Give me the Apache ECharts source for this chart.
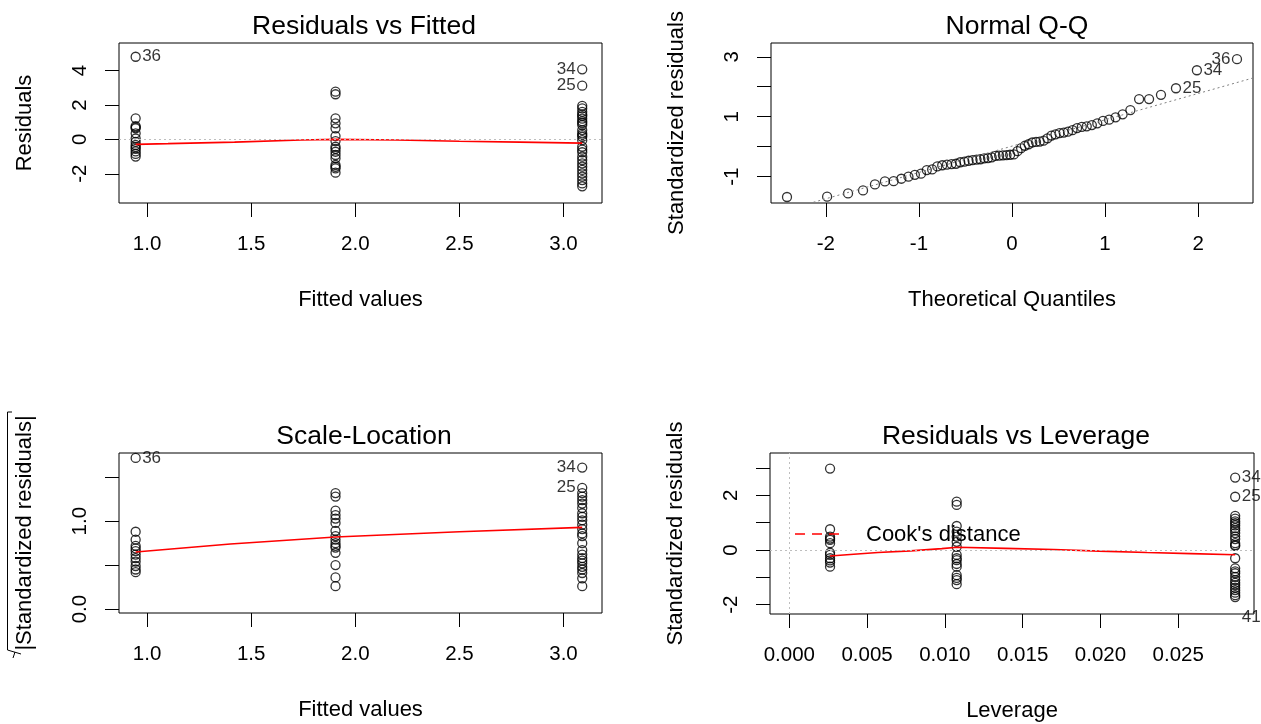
<!DOCTYPE html>
<html><head><meta charset="utf-8">
<script src="https://cdn.jsdelivr.net/npm/echarts@6/dist/echarts.min.js"></script>
<style>html,body{margin:0;padding:0;background:#fff}#c{width:1261px;height:724px}</style>
</head><body><div id="c"></div>
<script>
// ---------- data ----------
// Panel 1: Residuals vs Fitted
const fittedGroups = [0.945, 1.905, 3.09];
const residLow  = [4.80, 1.22, 0.77, 0.70, 0.64, 0.35, 0.05, -0.15, -0.33, -0.45, -0.55, -0.70, -0.85, -1.00];
const residMid  = [2.77, 2.62, 1.22, 0.93, 0.64, 0.19, -0.10, -0.43, -0.55, -0.72, -0.91, -1.10, -1.49, -1.60, -1.69, -1.94];
const residHigh = [4.07, 3.12, 1.95, 1.80, 1.60, 1.45, 1.35, 1.20, 1.05, 0.95, 0.83, 0.54, 0.35, 0.25, 0.15, -0.05, -0.43, -0.60, -0.75, -1.01, -1.20, -1.40, -1.59, -1.78, -1.98, -2.17, -2.37, -2.56, -2.73];
const smooth1X = [0.945, 1.10, 1.42, 1.74, 1.905, 2.20, 2.50, 2.79, 3.09];
const smooth1Y = [-0.29, -0.25, -0.16, -0.04, 0.00, -0.04, -0.11, -0.16, -0.22];
const labels1Id = ['36', '34', '25'];
const labels1X = [0.945, 3.09, 3.09];
const labels1Y = [4.80, 4.07, 3.12];
const labels1Pos = ['right', 'left', 'left'];
const xTicks1 = [1.0, 1.5, 2.0, 2.5, 3.0];
const yTicks1 = [-2, 0, 2, 4];

// Panel 2: Normal Q-Q
const qqTheo = [-2.418,-1.987,-1.762,-1.601,-1.473,-1.366,-1.272,-1.189,-1.113,-1.044,-0.978,-0.916,-0.858,-0.803,-0.750,-0.699,
  -0.650,-0.602,-0.556,-0.511,-0.467,-0.424,-0.381,-0.340,-0.298,-0.258,-0.218,-0.178,-0.138,-0.098,-0.059,-0.020,
  0.020,0.059,0.098,0.138,0.178,0.218,0.258,0.298,0.340,0.381,0.424,0.467,0.511,0.556,0.602,0.650,
  0.699,0.750,0.803,0.858,0.916,0.978,1.044,1.113,1.189,1.272,1.366,1.473,1.601,1.762,1.987,2.418];
const qqStd = [-1.68,-1.67,-1.56,-1.46,-1.26,-1.16,-1.15,-1.07,-1.00,-0.94,-0.90,-0.78,-0.76,-0.66,-0.62,-0.60,
  -0.58,-0.57,-0.52,-0.50,-0.47,-0.45,-0.43,-0.42,-0.39,-0.38,-0.36,-0.31,-0.30,-0.29,-0.28,-0.27,
  -0.26,-0.15,-0.05,0.03,0.08,0.14,0.16,0.17,0.20,0.28,0.37,0.41,0.45,0.47,0.50,0.55,
  0.62,0.66,0.68,0.72,0.78,0.86,0.90,0.98,1.08,1.22,1.59,1.59,1.73,1.95,2.55,2.92];
const qqLineX = [-2.60, 2.60];
const qqLineY = [-2.265, 2.301];
const labels2Id = ['36', '34', '25'];
const labels2X = [2.418, 1.987, 1.762];
const labels2Y = [2.92, 2.55, 1.95];
const labels2Pos = ['left', 'right', 'right'];
const xTicks2 = [-2, -1, 0, 1, 2];
const yTicks2 = [-1, 0, 1, 2, 3];
const yLabels2 = [-1, 1, 3];

// Panel 3: Scale-Location
const slLow  = [1.72, 0.88, 0.79, 0.72, 0.69, 0.66, 0.62, 0.58, 0.54, 0.49, 0.45, 0.42];
const slMid  = [1.32, 1.28, 1.12, 1.07, 1.03, 0.98, 0.89, 0.83, 0.79, 0.75, 0.72, 0.70, 0.64, 0.50, 0.36, 0.26];
const slHigh = [1.61, 1.38, 1.32, 1.28, 1.24, 1.20, 1.15, 1.09, 1.05, 1.01, 0.96, 0.91, 0.86, 0.83, 0.75, 0.67, 0.62, 0.58, 0.55, 0.52, 0.48, 0.45, 0.41, 0.35, 0.26];
const smooth3X = [0.945, 1.40, 1.905, 2.50, 3.09];
const smooth3Y = [0.65, 0.74, 0.82, 0.88, 0.93];
const labels3Id = ['36', '34', '25'];
const labels3X = [0.945, 3.09, 3.09];
const labels3Y = [1.72, 1.61, 1.38];
const labels3Pos = ['right', 'left', 'left'];
const yTicks3 = [0, 0.5, 1.0, 1.5];
const yLabels3 = [0, 1.0];

// Panel 4: Residuals vs Leverage
const leverageGroups = [0.00262, 0.01076, 0.02866];
const levLow  = [2.98, 0.76, 0.49, 0.42, 0.37, 0.25, -0.10, -0.18, -0.30, -0.38, -0.46, -0.61];
const levMid  = [1.77, 1.65, 0.88, 0.67, 0.49, 0.30, 0.12, -0.18, -0.30, -0.37, -0.51, -0.61, -0.92, -1.02, -1.10, -1.25];
const levHigh = [2.65, 1.95, 1.25, 1.15, 1.05, 0.98, 0.90, 0.80, 0.72, 0.62, 0.50, 0.40, 0.25, 0.18, 0.15, -0.30, -0.67, -0.78, -0.85, -0.98, -1.10, -1.20, -1.28, -1.38, -1.47, -1.56, -1.65, -1.72];
const smooth4X = [0.00262, 0.0037, 0.0057, 0.0078, 0.0098, 0.0108, 0.0139, 0.0170, 0.0199, 0.0230, 0.0258, 0.02866];
const smooth4Y = [-0.22, -0.17, -0.09, -0.03, 0.05, 0.10, 0.06, 0.02, -0.04, -0.09, -0.13, -0.17];
const labels4Id = ['34', '25', '41'];
const labels4X = [0.02866, 0.02866, 0.02866];
const labels4Y = [2.65, 1.95, -2.45];
const labels4Pos = ['right', 'right', 'right'];
const xTicks4 = [0, 0.005, 0.010, 0.015, 0.020, 0.025];
const yTicks4 = [-2, -1, 0, 1, 2, 3];
const yLabels4 = [-2, 0, 2];
const legendText = "Cook's distance";

// ---------- layout / style ----------
const FONT = '"Liberation Sans", Arial, sans-serif';
const grids = [
  {left: 119, top: 43, width: 483, height: 160},
  {left: 771, top: 43, width: 482, height: 160},
  {left: 119, top: 453, width: 483, height: 160},
  {left: 770, top: 453, width: 484, height: 161}
];

function xAxis(gi, min, max, ticks, labels, fmt, name) {
  return {
    type: 'value', gridIndex: gi, min: min, max: max, position: 'bottom',
    axisLine: {show: false, onZero: false}, splitLine: {show: false},
    axisTick: {show: true, inside: false, length: 14, customValues: ticks, lineStyle: {color: '#000', width: 1}},
    axisLabel: {show: true, customValues: labels, formatter: fmt, margin: 31, fontSize: 20.5, color: '#000', fontFamily: FONT},
    name: name, nameLocation: 'middle', nameGap: 86, nameMoveOverlap: false,
    nameTextStyle: {fontSize: 22, color: '#000', fontFamily: FONT}
  };
}
function yAxis(gi, min, max, ticks, labels, fmt, name) {
  return {
    type: 'value', gridIndex: gi, min: min, max: max, position: 'left',
    axisLine: {show: false, onZero: false}, splitLine: {show: false},
    axisTick: {show: true, inside: false, length: 14, customValues: ticks, lineStyle: {color: '#000', width: 1}},
    axisLabel: {show: true, customValues: labels, formatter: fmt, rotate: 90, margin: 28, fontSize: 20.5, color: '#000', fontFamily: FONT},
    name: name, nameLocation: 'middle', nameGap: 83, nameRotate: 90, nameMoveOverlap: false,
    nameTextStyle: {fontSize: 22, color: '#000', fontFamily: FONT}
  };
}

const pointBase = {
  type: 'scatter', symbol: 'circle', symbolSize: 9, silent: true, z: 3,
  itemStyle: {color: 'rgba(0,0,0,0)', borderColor: '#000', borderWidth: 1.3},
  emphasis: {disabled: true}
};
function groupPoints(xs, groups) {
  const out = [];
  groups.forEach((g, k) => g.forEach(v => out.push([xs[k], v])));
  return out;
}
function pairs(xs, ys) { return xs.map((x, i) => [x, ys[i]]); }
function pointSeries(gi, data) {
  return Object.assign({}, pointBase, {xAxisIndex: gi, yAxisIndex: gi, data: data});
}
function redLine(gi, xs, ys) {
  return {type: 'line', xAxisIndex: gi, yAxisIndex: gi, data: pairs(xs, ys), symbol: 'none', silent: true, z: 4,
    lineStyle: {color: '#ff0000', width: 1.6}, emphasis: {disabled: true}};
}
function refLines(gi, items) {
  return {type: 'scatter', xAxisIndex: gi, yAxisIndex: gi, data: [], silent: true, z: 5,
    markLine: {silent: true, symbol: 'none', animation: false, label: {show: false},
      lineStyle: {color: '#bebebe', width: 1, type: [2, 3]}, emphasis: {disabled: true}, data: items}};
}
function labelSeries(gi, ids, xs, ys, pos) {
  return {type: 'scatter', xAxisIndex: gi, yAxisIndex: gi, symbolSize: 1, clip: false, silent: true, z: 6,
    itemStyle: {color: 'rgba(0,0,0,0)'},
    data: ids.map((id, i) => ({value: [xs[i], ys[i]], name: id,
      label: {show: true, position: pos[i], distance: 6, formatter: id, fontSize: 17, color: '#000', fontFamily: FONT}}))};
}

const f1 = v => v.toFixed(1);
const f0 = v => String(v);
const f3 = v => v.toFixed(3);

const titleStyle = {fontSize: 26.5, fontWeight: 'normal', color: '#000', fontFamily: FONT};

const option = {
  animation: false,
  backgroundColor: '#fff',
  title: [
    {text: 'Residuals vs Fitted', left: 359, top: 8, textAlign: 'center', textStyle: titleStyle},
    {text: 'Normal Q-Q', left: 1012, top: 8, textAlign: 'center', textStyle: titleStyle},
    {text: 'Scale-Location', left: 359, top: 418, textAlign: 'center', textStyle: titleStyle},
    {text: 'Residuals vs Leverage', left: 1011, top: 418, textAlign: 'center', textStyle: titleStyle}
  ],
  grid: grids.map(g => Object.assign({show: true, borderColor: '#000', borderWidth: 1, backgroundColor: 'rgba(0,0,0,0)', containLabel: false, outerBoundsMode: 'none'}, g)),
  xAxis: [
    xAxis(0, 0.865, 3.185, xTicks1, xTicks1, f1, 'Fitted values'),
    xAxis(1, -2.59, 2.59, xTicks2, xTicks2, f0, 'Theoretical Quantiles'),
    xAxis(2, 0.865, 3.185, xTicks1, xTicks1, f1, 'Fitted values'),
    xAxis(3, -0.00124, 0.02987, xTicks4, xTicks4, f3, 'Leverage')
  ],
  yAxis: [
    yAxis(0, -3.70, 5.60, yTicks1, yTicks1, f0, 'Residuals'),
    yAxis(1, -1.88, 3.46, yTicks2, yLabels2, f0, 'Standardized residuals'),
    yAxis(2, -0.045, 1.776, yTicks3, yLabels3, f1, '|Standardized residuals|'),
    yAxis(3, -2.34, 3.55, yTicks4, yLabels4, f0, 'Standardized residuals')
  ],
  graphic: [
    // radical sign of the sqrt(|.|) axis title
    {type: 'polyline', silent: true, z: 10,
      shape: {points: [[12, 412], [7.5, 412], [7.5, 650], [21, 654]]},
      style: {stroke: '#000', lineWidth: 1, fill: null}},
    {type: 'polyline', silent: true, z: 10,
      shape: {points: [[15, 652], [13, 658]]},
      style: {stroke: '#000', lineWidth: 1, fill: null}},
    // Cook's distance legend
    {type: 'line', silent: true, z: 10,
      shape: {x1: 795, y1: 534, x2: 845, y2: 534},
      style: {stroke: '#ff0000', lineWidth: 1.5, lineDash: [10, 7]}},
    {type: 'text', silent: true, z: 10, x: 866, y: 535,
      style: {text: legendText, fontSize: 22, fontFamily: FONT, fill: '#000', textVerticalAlign: 'middle', verticalAlign: 'middle'}}
  ],
  series: [
    // panel 1
    pointSeries(0, groupPoints(fittedGroups, [residLow, residMid, residHigh])),
    redLine(0, smooth1X, smooth1Y),
    refLines(0, [{yAxis: 0}]),
    labelSeries(0, labels1Id, labels1X, labels1Y, labels1Pos),
    // panel 2
    pointSeries(1, pairs(qqTheo, qqStd)),
    {type: 'line', xAxisIndex: 1, yAxisIndex: 1, data: pairs(qqLineX, qqLineY), symbol: 'none', silent: true, z: 4,
      lineStyle: {color: '#7f7f7f', width: 1, type: [2, 3]}, emphasis: {disabled: true}},
    labelSeries(1, labels2Id, labels2X, labels2Y, labels2Pos),
    // panel 3
    pointSeries(2, groupPoints(fittedGroups, [slLow, slMid, slHigh])),
    redLine(2, smooth3X, smooth3Y),
    labelSeries(2, labels3Id, labels3X, labels3Y, labels3Pos),
    // panel 4
    pointSeries(3, groupPoints(leverageGroups, [levLow, levMid, levHigh])),
    redLine(3, smooth4X, smooth4Y),
    refLines(3, [{yAxis: 0}, {xAxis: 0}]),
    labelSeries(3, labels4Id, labels4X, labels4Y, labels4Pos)
  ]
};

const chart = echarts.init(document.getElementById('c'));
chart.setOption(option);
</script>
</body></html>
